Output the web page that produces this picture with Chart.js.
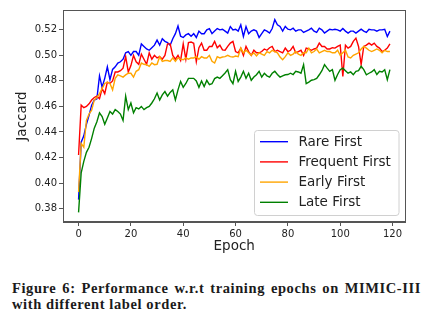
<!DOCTYPE html>
<html>
<head>
<meta charset="utf-8">
<script src="https://cdn.jsdelivr.net/npm/chart.js@4.4.1/dist/chart.umd.min.js"></script>
<style>
  html, body { margin: 0; padding: 0; background: #fff; }
  body { width: 436px; height: 322px; position: relative; overflow: hidden; }
  #wrap { position: absolute; left: 0; top: 0; width: 436px; height: 260px; }
  .cap {
    position: absolute; left: 12px;
    font-family: "Liberation Serif", "DejaVu Serif", serif; font-weight: bold;
    font-size: 14.5px; line-height: 16px; color: #1a1a1a; white-space: nowrap;
    letter-spacing: 0.6px;
  }
  #cap1 { top: 280px; width: 409px; text-align: justify; text-align-last: justify; white-space: normal; }
  #cap2 { top: 296px; }
</style>
</head>
<body>
<div id="wrap"><canvas id="chart" width="436" height="260"></canvas></div>
<div id="cap1" class="cap">Figure 6: Performance w.r.t training epochs on MIMIC-III</div>
<div id="cap2" class="cap">with different label order.</div>
<script>
// Jaccard score per training epoch (0..119) for each label ordering
const epochs = Array.from({ length: 120 }, (_, i) => i);

const rareFirst = [
  0.387, 0.432, 0.437, 0.446, 0.453, 0.461, 0.465, 0.466, 0.484, 0.475,
  0.482, 0.491, 0.481, 0.489, 0.491, 0.494, 0.495, 0.497, 0.502, 0.503,
  0.500, 0.503, 0.503, 0.500, 0.509, 0.507, 0.505, 0.504, 0.506, 0.508,
  0.512, 0.508, 0.513, 0.511, 0.510, 0.508, 0.513, 0.517, 0.523, 0.515,
  0.514, 0.516, 0.517, 0.515, 0.517, 0.514, 0.519, 0.517, 0.517, 0.520,
  0.521, 0.517, 0.519, 0.521, 0.520, 0.5205, 0.519, 0.5175, 0.5226, 0.520,
  0.5205, 0.519, 0.524, 0.5148, 0.5226, 0.517, 0.519, 0.520, 0.519, 0.514,
  0.517, 0.520, 0.519, 0.5175, 0.521, 0.528, 0.524, 0.5226, 0.519, 0.5226,
  0.5205, 0.520, 0.5213, 0.519, 0.520, 0.520, 0.518, 0.519, 0.520, 0.5213,
  0.519, 0.518, 0.5213, 0.520, 0.5175, 0.519, 0.5205, 0.520, 0.5205, 0.520,
  0.519, 0.521, 0.519, 0.5175, 0.519, 0.519, 0.5175, 0.519, 0.5205, 0.519,
  0.518, 0.5205, 0.520, 0.520, 0.519, 0.520, 0.520, 0.5205, 0.5148, 0.519
];

const frequentFirst = [
  0.422, 0.461, 0.459, 0.460, 0.462, 0.465, 0.467, 0.468, 0.466, 0.474,
  0.470, 0.479, 0.478, 0.480, 0.487, 0.487, 0.488, 0.490, 0.499, 0.487,
  0.492, 0.500, 0.495, 0.493, 0.501, 0.497, 0.493, 0.502, 0.497, 0.500,
  0.498, 0.499, 0.497, 0.500, 0.509, 0.509, 0.500, 0.497, 0.500, 0.496,
  0.509, 0.497, 0.510, 0.5105, 0.5095, 0.495, 0.506, 0.5096, 0.504, 0.504,
  0.507, 0.507, 0.511, 0.506, 0.508, 0.5043, 0.504, 0.507, 0.5096, 0.511,
  0.503, 0.502, 0.5057, 0.500, 0.507, 0.503, 0.500, 0.504, 0.502, 0.502,
  0.503, 0.505, 0.504, 0.506, 0.507, 0.503, 0.504, 0.503, 0.502, 0.5057,
  0.503, 0.504, 0.507, 0.502, 0.503, 0.504, 0.500, 0.5057, 0.505, 0.504,
  0.505, 0.5057, 0.5096, 0.507, 0.507, 0.505, 0.505, 0.506, 0.5057, 0.507,
  0.508, 0.4835, 0.508, 0.5057, 0.507, 0.511, 0.5135, 0.507, 0.4927, 0.507,
  0.508, 0.5096, 0.508, 0.5096, 0.507, 0.5057, 0.503, 0.504, 0.5057, 0.509
];

const earlyFirst = [
  0.393, 0.431, 0.428, 0.449, 0.454, 0.457, 0.465, 0.467, 0.470, 0.474,
  0.478, 0.479, 0.478, 0.473, 0.482, 0.4847, 0.484, 0.483, 0.4847, 0.486,
  0.486, 0.483, 0.4875, 0.4888, 0.494, 0.493, 0.4927, 0.4914, 0.494, 0.4927,
  0.493, 0.499, 0.4953, 0.496, 0.496, 0.4953, 0.498, 0.4953, 0.498, 0.497,
  0.4966, 0.498, 0.497, 0.498, 0.498, 0.499, 0.497, 0.499, 0.498, 0.498,
  0.500, 0.4953, 0.494, 0.499, 0.498, 0.4987, 0.499, 0.500, 0.499, 0.4987,
  0.4995, 0.499, 0.5057, 0.502, 0.504, 0.502, 0.500, 0.502, 0.4995, 0.502,
  0.501, 0.500, 0.503, 0.502, 0.504, 0.503, 0.502, 0.4987, 0.4966, 0.499,
  0.502, 0.500, 0.501, 0.503, 0.501, 0.500, 0.502, 0.502, 0.5057, 0.502,
  0.503, 0.505, 0.502, 0.503, 0.504, 0.503, 0.503, 0.502, 0.502, 0.504,
  0.500, 0.502, 0.504, 0.4987, 0.498, 0.500, 0.501, 0.502, 0.505, 0.507,
  0.5057, 0.504, 0.503, 0.504, 0.505, 0.504, 0.502, 0.504, 0.503, 0.503
];

const lateFirst = [
  0.377, 0.408, 0.417, 0.424, 0.428, 0.435, 0.443, 0.448, 0.455, 0.452,
  0.446, 0.451, 0.456, 0.454, 0.4575, 0.456, 0.454, 0.449, 0.468, 0.4575,
  0.4627, 0.455, 0.459, 0.458, 0.460, 0.4575, 0.459, 0.460, 0.4627, 0.466,
  0.4705, 0.465, 0.469, 0.4716, 0.468, 0.471, 0.473, 0.465, 0.473, 0.4796,
  0.475, 0.478, 0.482, 0.482, 0.482, 0.480, 0.475, 0.480, 0.4756, 0.4804,
  0.477, 0.4778, 0.4818, 0.483, 0.482, 0.484, 0.4862, 0.4888, 0.481, 0.4778,
  0.4875, 0.4796, 0.483, 0.4875, 0.482, 0.486, 0.4805, 0.483, 0.4848, 0.4875,
  0.483, 0.486, 0.484, 0.483, 0.486, 0.4875, 0.485, 0.483, 0.484, 0.4848,
  0.485, 0.486, 0.485, 0.4875, 0.487, 0.486, 0.4927, 0.4778, 0.479, 0.4805,
  0.481, 0.482, 0.4848, 0.488, 0.4927, 0.490, 0.4875, 0.4888, 0.4805, 0.485,
  0.4888, 0.490, 0.488, 0.486, 0.487, 0.4848, 0.4875, 0.488, 0.4914, 0.4888,
  0.4848, 0.486, 0.487, 0.4888, 0.485, 0.4875, 0.487, 0.4888, 0.481, 0.4888
];

const seriesLabels = ['Rare First', 'Frequent First', 'Early First', 'Late First'];
const seriesColors = ['#0000ff', '#ff0000', '#ffa500', '#008000'];
const xTicks = [0, 20, 40, 60, 80, 100, 120];
const yTicks = [0.38, 0.40, 0.42, 0.44, 0.46, 0.48, 0.50, 0.52];

const FONT = '"DejaVu Sans", sans-serif';
const INK = '#222';
const SPINE = '#555';

const allSeries = [rareFirst, frequentFirst, earlyFirst, lateFirst];
const datasets = allSeries.map((vals, i) => ({
  label: seriesLabels[i],
  data: vals.map((v, j) => ({ x: epochs[j], y: v })),
  borderColor: seriesColors[i],
  backgroundColor: seriesColors[i],
  borderWidth: 1.4,
  pointRadius: 0,
  tension: 0,
  fill: false,
  order: allSeries.length - i   // later series drawn on top
}));

// Axis limits with a 5% margin around the data
const allVals = allSeries.flat();
const xSpan = epochs[epochs.length - 1] - epochs[0];
const yMinV = Math.min(...allVals), yMaxV = Math.max(...allVals);
const ySpan = yMaxV - yMinV;

// Full box around the plotting area
const frame = {
  id: 'frame',
  afterDatasetsDraw(chart) {
    const { ctx, chartArea: a } = chart;
    ctx.save();
    ctx.strokeStyle = SPINE;
    ctx.lineWidth = 1;
    ctx.strokeRect(Math.round(a.left) + 0.5, Math.round(a.top) + 0.5,
      Math.round(a.right - a.left) - 1, Math.round(a.bottom - a.top) - 1);
    ctx.restore();
  }
};

// Legend box in the lower-right corner of the plot
const insetLegend = {
  id: 'insetLegend',
  afterDraw(chart) {
    const { ctx, chartArea: a } = chart;
    const rowH = 20.2, boxW = 144.5, boxH = 85;
    const x0 = a.right - 7 - boxW, y0 = a.bottom - 7 - boxH;
    ctx.save();
    ctx.fillStyle = 'rgba(255,255,255,0.85)';
    ctx.strokeStyle = '#d0d0d0';
    ctx.lineWidth = 1;
    ctx.beginPath();
    ctx.roundRect(x0 + 0.5, y0 + 0.5, boxW, boxH, 3);
    ctx.fill();
    ctx.stroke();
    ctx.font = '13.5px ' + FONT;
    ctx.textBaseline = 'middle';
    ctx.fillStyle = INK;
    chart.data.datasets.forEach((ds, i) => {
      const yy = y0 + 11.7 + i * rowH;
      ctx.strokeStyle = ds.borderColor;
      ctx.lineWidth = 1.4;
      ctx.beginPath();
      ctx.moveTo(x0 + 6, yy);
      ctx.lineTo(x0 + 34, yy);
      ctx.stroke();
      ctx.fillText(ds.label, x0 + 44.5, yy + 0.5);
    });
    ctx.restore();
  }
};

new Chart(document.getElementById('chart'), {
  type: 'line',
  data: { datasets },
  plugins: [frame, insetLegend],
  options: {
    responsive: false,
    animation: false,
    events: [],
    layout: { padding: { top: 10, right: 30.5, left: 0, bottom: 0 } },
    plugins: { legend: { display: false }, tooltip: { enabled: false } },
    scales: {
      x: {
        type: 'linear',
        min: epochs[0] - 0.05 * xSpan,
        max: epochs[epochs.length - 1] + 0.05 * xSpan,
        afterBuildTicks: s => { s.ticks = xTicks.map(v => ({ value: v })); },
        afterFit: s => { s.height = 38; },
        grid: { display: true, drawOnChartArea: false, drawTicks: true, tickLength: 4, tickColor: SPINE },
        border: { display: true, color: SPINE, width: 1 },
        ticks: { color: INK, font: { family: FONT, size: 10 }, padding: 2, maxRotation: 0,
                 callback: v => String(v) },
        title: { display: true, text: 'Epoch', color: INK, font: { family: FONT, size: 13.5 },
                 padding: { top: 0, bottom: 5 } }
      },
      y: {
        type: 'linear',
        min: yMinV - 0.05 * ySpan,
        max: yMaxV + 0.05 * ySpan,
        afterBuildTicks: s => { s.ticks = yTicks.map(v => ({ value: v })); },
        afterFit: s => { s.width = 63; },
        grid: { display: true, drawOnChartArea: false, drawTicks: true, tickLength: 4, tickColor: SPINE },
        border: { display: true, color: SPINE, width: 1 },
        ticks: { color: INK, font: { family: FONT, size: 10 }, padding: 2,
                 callback: v => v.toFixed(2) },
        title: { display: true, text: 'Jaccard', color: INK, font: { family: FONT, size: 13.5 },
                 padding: { top: 14, bottom: 0 } }
      }
    }
  }
});
</script>
</body>
</html>
